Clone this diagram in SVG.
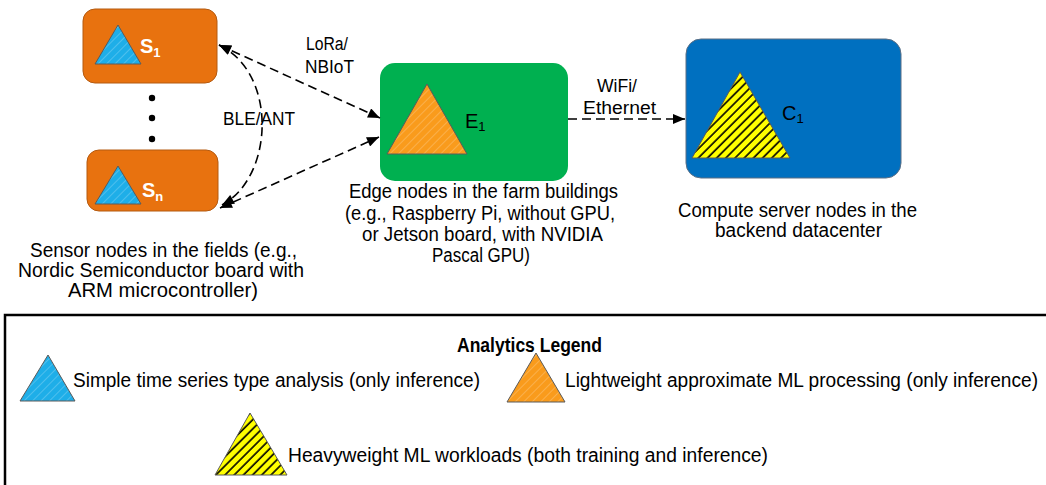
<svg xmlns="http://www.w3.org/2000/svg" width="1046" height="485" viewBox="0 0 1046 485">
<style>
  text { font-family: "Liberation Sans", Arial, sans-serif; fill: #000; }
  .cap { font-size: 19.5px; }
  .lbl { font-size: 18px; }
  .sub { font-size: 13px; }
  .slbl { font-size: 20px; font-weight: bold; fill: #fff; }
  .nlbl { font-size: 20px; }
  .tri { stroke: #5a5a5a; stroke-width: 1; }
  .conn { fill: none; stroke: #000; stroke-width: 1.6; stroke-dasharray: 9 5; }
</style>
<defs>
  <pattern id="hBlue" patternUnits="userSpaceOnUse" width="6" height="6" patternTransform="rotate(45)">
    <rect width="6" height="6" fill="#1EAEE8"/>
    <line x1="0" y1="0" x2="0" y2="6" stroke="#ffffff" stroke-opacity="0.3" stroke-width="1.4"/>
  </pattern>
  <pattern id="hOrange" patternUnits="userSpaceOnUse" width="6" height="6" patternTransform="rotate(45)">
    <rect width="6" height="6" fill="#F99B1C"/>
    <line x1="0" y1="0" x2="0" y2="6" stroke="#ffffff" stroke-opacity="0.3" stroke-width="1.4"/>
  </pattern>
  <pattern id="hYellow" patternUnits="userSpaceOnUse" width="6.5" height="6.5" patternTransform="rotate(45)">
    <rect width="6.5" height="6.5" fill="#FFFF00"/>
    <line x1="1" y1="0" x2="1" y2="6.5" stroke="#000" stroke-width="1.6"/>
  </pattern>
  <marker id="arr" viewBox="0 0 12 10" refX="12" refY="5" markerWidth="13" markerHeight="10" markerUnits="userSpaceOnUse" orient="auto-start-reverse">
    <path d="M0,0 L12,5 L0,10 Z" fill="#000"/>
  </marker>
</defs>

<g id="node-S1">
  <rect x="83" y="9" width="134" height="74" rx="12" fill="#E8720F" stroke="#B45A10" stroke-width="1"/>
  <polygon class="tri" points="118,25 95,64 141,64" fill="url(#hBlue)"/>
  <text class="slbl" x="140" y="53">S<tspan class="sub" dy="4">1</tspan></text>
</g>

<g id="dots">
  <circle cx="152" cy="98" r="3.2" fill="#000"/>
  <circle cx="152" cy="118" r="3.2" fill="#000"/>
  <circle cx="152" cy="139" r="3.2" fill="#000"/>
</g>

<g id="node-Sn">
  <rect x="87" y="150" width="131" height="61" rx="12" fill="#E8720F" stroke="#B45A10" stroke-width="1"/>
  <polygon class="tri" points="118,166 95,204 141,204" fill="url(#hBlue)"/>
  <text class="slbl" x="142" y="197">S<tspan class="sub" dy="4">n</tspan></text>
</g>

<g id="node-E1">
  <rect x="380" y="63" width="188" height="118" rx="15" fill="#00B050"/>
  <polygon class="tri" points="427,84 387,154 467,154" fill="url(#hOrange)"/>
  <text class="nlbl" x="465" y="128">E<tspan class="sub" dy="3">1</tspan></text>
</g>

<g id="node-C1">
  <rect x="686" y="39" width="215" height="139" rx="15" fill="#0070C0" stroke="#5b6f85" stroke-width="1"/>
  <polygon class="tri" points="740,72 692,158 790,158" fill="url(#hYellow)"/>
  <text class="nlbl" x="782" y="120">C<tspan class="sub" dy="3">1</tspan></text>
</g>

<g id="connectors">
  <path class="conn" d="M219,45 L380,118" marker-start="url(#arr)" marker-end="url(#arr)"/>
  <path class="conn" d="M220,208 L379,137" marker-start="url(#arr)" marker-end="url(#arr)"/>
  <path class="conn" d="M219,45 C278,73 274,177 222,205" marker-start="url(#arr)" marker-end="url(#arr)"/>
  <path class="conn" d="M568,119 L685,119" marker-end="url(#arr)"/>
  <text class="lbl" x="306" y="50" textLength="42" lengthAdjust="spacingAndGlyphs">LoRa/</text>
  <text class="lbl" x="305" y="73" textLength="49" lengthAdjust="spacingAndGlyphs">NBIoT</text>
  <text class="lbl" x="223" y="125" textLength="72" lengthAdjust="spacingAndGlyphs">BLE/ANT</text>
  <text class="lbl" x="597" y="92" textLength="40" lengthAdjust="spacingAndGlyphs">WiFi/</text>
  <text class="lbl" x="583" y="114" textLength="73" lengthAdjust="spacingAndGlyphs">Ethernet</text>
</g>

<g id="caption-sensor">
  <text class="cap" x="30" y="257" textLength="267" lengthAdjust="spacingAndGlyphs">Sensor nodes in the fields (e.g.,</text>
  <text class="cap" x="18" y="277" textLength="286" lengthAdjust="spacingAndGlyphs">Nordic Semiconductor board with</text>
  <text class="cap" x="68" y="297" textLength="190" lengthAdjust="spacingAndGlyphs">ARM microcontroller)</text>
</g>

<g id="caption-edge">
  <text class="cap" x="349" y="198" textLength="269" lengthAdjust="spacingAndGlyphs">Edge nodes in the farm buildings</text>
  <text class="cap" x="345" y="220" textLength="270" lengthAdjust="spacingAndGlyphs">(e.g., Raspberry Pi, without GPU,</text>
  <text class="cap" x="362" y="241" textLength="241" lengthAdjust="spacingAndGlyphs">or Jetson board, with NVIDIA</text>
  <text class="cap" x="432" y="262" textLength="98" lengthAdjust="spacingAndGlyphs">Pascal GPU)</text>
</g>

<g id="caption-compute">
  <text class="cap" x="678" y="217" textLength="239" lengthAdjust="spacingAndGlyphs">Compute server nodes in the</text>
  <text class="cap" x="715" y="237" textLength="167" lengthAdjust="spacingAndGlyphs">backend datacenter</text>
</g>

<g id="legend">
  <rect x="5" y="315" width="1100" height="200" fill="none" stroke="#000" stroke-width="2.5"/>
  <text class="cap" x="457" y="352" font-weight="bold" textLength="145" lengthAdjust="spacingAndGlyphs">Analytics Legend</text>
  <polygon class="tri" points="48,355 20,401 75,401" fill="url(#hBlue)"/>
  <text class="cap" x="73" y="387" textLength="407" lengthAdjust="spacingAndGlyphs">Simple time series type analysis (only inference)</text>
  <polygon class="tri" points="536,353 507,402 565,402" fill="url(#hOrange)"/>
  <text class="cap" x="565" y="387" textLength="473" lengthAdjust="spacingAndGlyphs">Lightweight approximate ML processing (only inference)</text>
  <polygon class="tri" points="250,413 215,475 287,475" fill="url(#hYellow)"/>
  <text class="cap" x="288" y="462" textLength="480" lengthAdjust="spacingAndGlyphs">Heavyweight ML workloads (both training and inference)</text>
</g>
</svg>
